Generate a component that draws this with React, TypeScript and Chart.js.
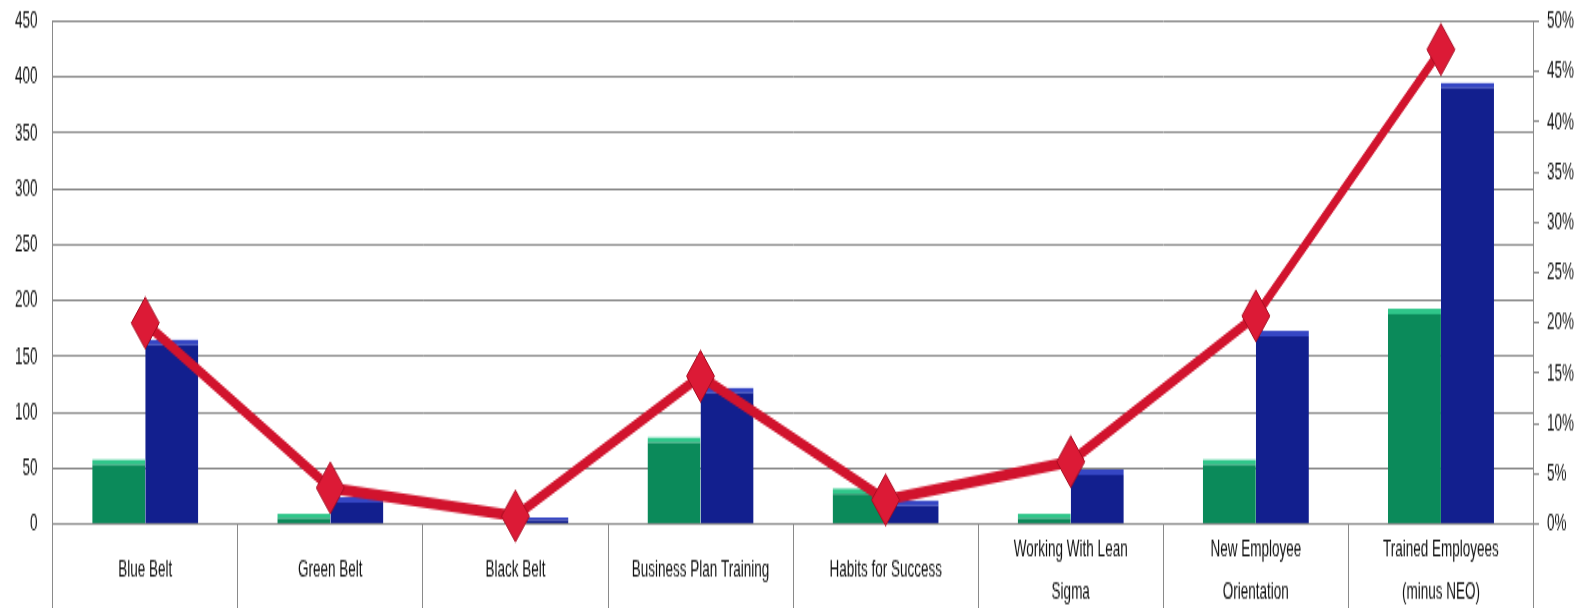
import React, { useEffect, useRef } from 'react';
import { Chart, registerables } from 'chart.js';

Chart.register(...registerables);

// ---- Data ----
const categories: (string | string[])[] = [
  'Blue Belt',
  'Green Belt',
  'Black Belt',
  'Business Plan Training',
  'Habits for Success',
  ['Working With Lean', 'Sigma'],
  ['New Employee', 'Orientation'],
  ['Trained Employees', '(minus NEO)'],
];
const greenSeries = [58, 9, 0, 78, 32, 9, 58, 193];
const blueSeries = [165, 24, 6, 122, 21, 49, 173, 395];
const percentSeries = [20.0, 3.6, 0.8, 14.7, 2.4, 6.2, 20.7, 47.2];

const leftMax = 450;
const leftStep = 50;
const rightMax = 0.5;
const rightStep = 0.05;

// ---- Layout (the original picture is vertically stretched) ----
const W = 1592;
const H = 329; // drawing height
const CSS_H = 608; // displayed height
const K = CSS_H / H;

const FONT = "'Liberation Sans', Arial, sans-serif";
const GRID = '#8a8a8a';
const TEXT = '#111111';

export default function App() {
  const ref = useRef<HTMLCanvasElement | null>(null);

  useEffect(() => {
    const canvas = ref.current;
    if (!canvas) return;
    const plotTop = 21.3 / K;
    const plotBottom = 524 / K;
    const xAxisH = H - plotBottom;
    const lineH = 41.3 / K;
    const fontSize = 13.5;
    const labelCenter = 570 / K;
    const tickLen = Math.ceil(H - plotBottom) + 1;
    const xPad = labelCenter - plotBottom - tickLen - lineH + 11.5;

    const chart = new Chart(canvas, {
      type: 'bar',
      data: {
        labels: categories,
        datasets: [
          {
            type: 'line',
            label: 'Percent',
            data: percentSeries.map((v) => v / 100),
            yAxisID: 'y1',
            borderColor: '#d1132d',
            borderWidth: 6,
            pointStyle: 'rectRot',
            pointRadius: 14,
            pointBackgroundColor: '#dc1a36',
            pointBorderColor: '#a80c21',
            pointBorderWidth: 1,
            tension: 0,
            clip: false,
            order: 0,
          } as any,
          {
            type: 'bar',
            label: 'Green',
            data: greenSeries,
            yAxisID: 'y',
            backgroundColor: '#0b8a5a',
            borderColor: '#2fc68a',
            borderWidth: { top: 3, left: 0, right: 0, bottom: 0 },
            borderSkipped: 'start',
            order: 1,
          },
          {
            type: 'bar',
            label: 'Blue',
            data: blueSeries,
            yAxisID: 'y',
            backgroundColor: '#121f8e',
            borderColor: '#3546c4',
            borderWidth: { top: 3, left: 0, right: 0, bottom: 0 },
            borderSkipped: 'start',
            order: 1,
          },
        ],
      },
      options: {
        responsive: false,
        animation: false,
        devicePixelRatio: 1,
        layout: { autoPadding: false, padding: { top: plotTop, left: 0, right: 0, bottom: 0 } },
        datasets: {
          bar: { barPercentage: 1, categoryPercentage: 0.573 },
        },
        plugins: {
          legend: { display: false },
          tooltip: { enabled: false },
          title: { display: false },
        },
        scales: {
          x: {
            offset: true,
            grid: {
              offset: true,
              drawOnChartArea: false,
              drawTicks: true,
              tickLength: tickLen,
              color: GRID,
              lineWidth: 1,
            },
            border: { display: true, color: GRID, width: 1 },
            ticks: {
              autoSkip: false,
              maxRotation: 0,
              minRotation: 0,
              crossAlign: 'center',
              padding: xPad,
              color: TEXT,
              font: { family: FONT, size: fontSize, lineHeight: lineH / fontSize },
            },
            afterFit: (s: any) => {
              s.height = xAxisH;
            },
          },
          y: {
            position: 'left',
            min: 0,
            max: leftMax,
            ticks: {
              stepSize: leftStep,
              padding: 0,
              color: TEXT,
              font: { family: FONT, size: fontSize },
            },
            grid: {
              color: GRID,
              lineWidth: 1,
              drawTicks: true,
              tickLength: 15.3,
              tickColor: 'rgba(0,0,0,0)',
            },
            border: { display: true, color: GRID, width: 1 },
            afterFit: (s: any) => {
              s.width = 52.7;
            },
          },
          y1: {
            position: 'right',
            min: 0,
            max: rightMax,
            ticks: {
              stepSize: rightStep,
              padding: 0,
              color: TEXT,
              font: { family: FONT, size: fontSize },
              callback: (v: any) => Math.round(Number(v) * 100) + '%',
            },
            grid: {
              drawOnChartArea: false,
              drawTicks: true,
              tickLength: 13.5,
              tickBorderDash: [5, 200],
              color: GRID,
              lineWidth: 1,
            },
            border: { display: true, color: GRID, width: 1 },
            afterFit: (s: any) => {
              s.width = W - 1533.5;
            },
          },
        },
      } as any,
    });
    return () => chart.destroy();
  }, []);

  return (
    <div style={{ position: 'fixed', left: 0, top: 0, width: W, height: CSS_H, background: '#fff' }}>
      <canvas
        ref={ref}
        width={W}
        height={H}
        style={{ display: 'block', width: W + 'px', height: CSS_H + 'px' }}
      />
    </div>
  );
}
